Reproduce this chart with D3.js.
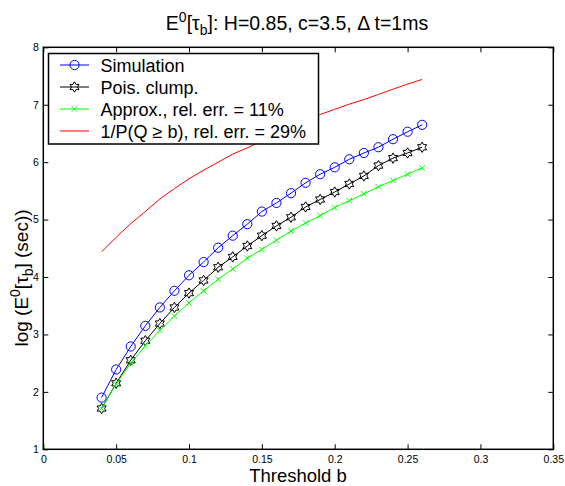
<!DOCTYPE html>
<html>
<head>
<meta charset="utf-8">
<script src="https://cdn.jsdelivr.net/npm/d3@7"></script>
<style>
  html, body { margin: 0; padding: 0; background: #fff; }
  svg { display: block; font-family: "Liberation Sans", Arial, Helvetica, sans-serif; }
</style>
</head>
<body>
<svg id="chart" width="565" height="486"></svg>
<script>
// ---- data ----
const thresholds = [0.04,0.05,0.06,0.07,0.08,0.09,0.10,0.11,0.12,0.13,0.14,0.15,0.16,0.17,0.18,0.19,0.20,0.21,0.22,0.23,0.24,0.25,0.26];
const simulation = [1.90,2.39,2.79,3.15,3.47,3.76,4.03,4.26,4.51,4.72,4.92,5.14,5.29,5.46,5.64,5.79,5.91,6.05,6.16,6.26,6.40,6.53,6.65];
const poisClump  = [1.71,2.15,2.55,2.89,3.19,3.47,3.72,3.94,4.17,4.35,4.54,4.72,4.89,5.04,5.22,5.35,5.48,5.62,5.76,5.94,6.07,6.16,6.26];
const approx     = [1.71,2.14,2.50,2.80,3.07,3.32,3.55,3.76,3.96,4.14,4.33,4.48,4.64,4.80,4.94,5.07,5.21,5.33,5.45,5.57,5.68,5.79,5.90];
const invProb    = [4.44,4.69,4.93,5.14,5.36,5.54,5.71,5.86,6.00,6.14,6.25,6.37,6.48,6.60,6.71,6.83,6.92,7.01,7.09,7.18,7.27,7.36,7.44];
const xTicks = [0,0.05,0.1,0.15,0.2,0.25,0.3,0.35];
const xTickLabels = ["0","0.05","0.1","0.15","0.2","0.25","0.3","0.35"];
const yTicks = [1,2,3,4,5,6,7,8];
const yTickLabels = ["1","2","3","4","5","6","7","8"];
const legendLabels = ["Simulation","Pois. clump.","Approx., rel. err. = 11%","1/P(Q \u2265 b), rel. err. = 29%"];

// ---- layout ----
const svg = d3.select("#chart");
const L = 43.3, R = 553.3, T = 47.3, B = 449.3;
const x = d3.scaleLinear().domain([0, 0.35]).range([L, R]);
const y = d3.scaleLinear().domain([1, 8]).range([B, T]);

const series = [
  {name: legendLabels[0], values: simulation, color: "#0000ff", marker: "circle"},
  {name: legendLabels[1], values: poisClump,  color: "#000000", marker: "hexagram"},
  {name: legendLabels[2], values: approx,     color: "#00ff00", marker: "x"},
  {name: legendLabels[3], values: invProb,    color: "#ff0000", marker: "none"}
];

// axes
function styleAxis(g) {
  g.select(".domain").remove();
  g.selectAll(".tick line").attr("stroke", "#000").attr("stroke-width", 1);
  g.selectAll(".tick text").attr("fill", "#000").style("font-size", "10.5px")
    .style("font-family", '"Liberation Sans", Arial, sans-serif');
}
svg.append("g").attr("transform", `translate(0,${B})`)
  .call(d3.axisBottom(x).tickValues(xTicks).tickFormat((d,i) => xTickLabels[i]).tickSize(-5).tickPadding(6.5))
  .call(styleAxis);
svg.append("g").attr("transform", `translate(0,${T})`)
  .call(d3.axisTop(x).tickValues(xTicks).tickFormat("").tickSize(-5))
  .call(styleAxis);
svg.append("g").attr("transform", `translate(${L},0)`)
  .call(d3.axisLeft(y).tickValues(yTicks).tickFormat((d,i) => yTickLabels[i]).tickSize(-5).tickPadding(4.5))
  .call(styleAxis);
svg.append("g").attr("transform", `translate(${R},0)`)
  .call(d3.axisRight(y).tickValues(yTicks).tickFormat("").tickSize(-5))
  .call(styleAxis);

svg.append("rect").attr("x", L).attr("y", T).attr("width", R - L).attr("height", B - T)
  .attr("fill", "none").attr("stroke", "#000").attr("stroke-width", 1.5);

// markers
const hexPoints = d3.range(12).map(i => {
  const a = i * Math.PI / 6;
  const r = (i % 2 === 0) ? 5.2 : 3.0;
  return [a, r];
});
const hexPath = d3.lineRadial().angle(d => d[0]).radius(d => d[1]).curve(d3.curveLinearClosed)(hexPoints);

function drawMarker(g, type, color, cx, cy) {
  if (type === "circle") {
    g.append("circle").attr("cx", cx).attr("cy", cy).attr("r", 4.6)
      .attr("fill", "none").attr("stroke", color).attr("stroke-width", 1);
  } else if (type === "hexagram") {
    g.append("path").attr("d", hexPath).attr("transform", `translate(${cx},${cy})`)
      .attr("fill", "none").attr("stroke", color).attr("stroke-width", 1);
  } else if (type === "x") {
    const s = 2.8;
    g.append("path").attr("d", `M${cx-s},${cy-s}L${cx+s},${cy+s}M${cx-s},${cy+s}L${cx+s},${cy-s}`)
      .attr("fill", "none").attr("stroke", color).attr("stroke-width", 1);
  }
}

const line = d3.line().x((d, i) => x(thresholds[i])).y(d => y(d));
const plot = svg.append("g");
series.forEach(s => {
  plot.append("path").datum(s.values).attr("d", line)
    .attr("fill", "none").attr("stroke", s.color).attr("stroke-width", 1);
  const mg = plot.append("g");
  s.values.forEach((v, i) => drawMarker(mg, s.marker, s.color, x(thresholds[i]), y(v)));
});

// legend
const lg = svg.append("g");
lg.append("rect").attr("x", 48.5).attr("y", 53.5).attr("width", 270).attr("height", 90.5)
  .attr("fill", "#fff").attr("stroke", "#000").attr("stroke-width", 1.5);
series.forEach((s, i) => {
  const ry = 65 + i * 22;
  lg.append("line").attr("x1", 60).attr("x2", 89).attr("y1", ry).attr("y2", ry)
    .attr("stroke", s.color).attr("stroke-width", 1);
  drawMarker(lg, s.marker, s.color, 74.5, ry);
  lg.append("text").attr("x", 100.5).attr("y", ry + 6.5).style("font-size", "18px").attr("fill", "#000").text(s.name);
});

// title
const title = svg.append("text").attr("x", 297).attr("y", 30).attr("text-anchor", "middle")
  .style("font-size", "19.5px").attr("fill", "#000");
title.append("tspan").text("E");
title.append("tspan").attr("dy", -8).style("font-size", "14px").text("0");
title.append("tspan").attr("dy", 8).text("[\u03c4");
title.append("tspan").attr("dy", 5).style("font-size", "14px").text("b");
title.append("tspan").attr("dy", -5).text("]: H=0.85, c=3.5, \u0394 t=1ms");

// x label
svg.append("text").attr("x", 298).attr("y", 482.3).attr("text-anchor", "middle")
  .style("font-size", "18.5px").attr("fill", "#000").text("Threshold b");

// y label
const yl = svg.append("text").attr("transform", "translate(28,278) rotate(-90)").attr("text-anchor", "middle")
  .style("font-size", "19px").attr("fill", "#000");
yl.append("tspan").text("log (E");
yl.append("tspan").attr("dy", -8).style("font-size", "14px").text("0");
yl.append("tspan").attr("dy", 8).text("[\u03c4");
yl.append("tspan").attr("dy", 5).style("font-size", "14px").text("b");
yl.append("tspan").attr("dy", -5).text("] (sec))");
</script>
</body>
</html>
